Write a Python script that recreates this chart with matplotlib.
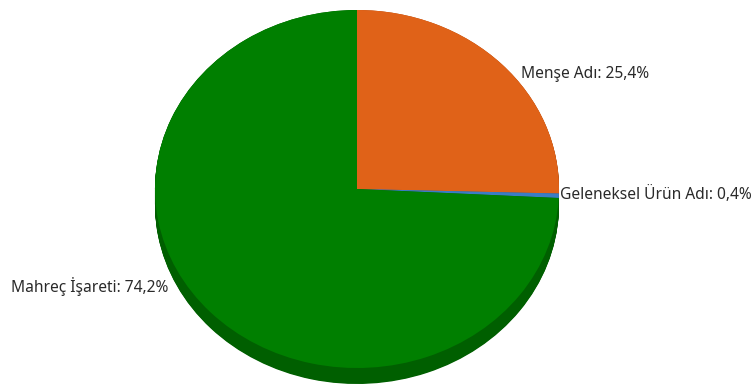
import matplotlib
matplotlib.use("Agg")
import matplotlib.pyplot as plt
import numpy as np

categories = ["Menşe Adı", "Geleneksel Ürün Adı", "Mahreç İşareti"]
values = [25.4, 0.4, 74.2]
top_colors = ["#E06218", "#3B7DC4", "#007F00"]
side_colors = ["#A8480F", "#2A5A90", "#005F00"]

W, H = 755, 385
cx, cy = 357, 189
rx, ry = 202, 179
depth_px = 16

fig = plt.figure(figsize=(W / 100, H / 100), dpi=100)
ax = fig.add_axes([0, 0, 1, 1])

# side (depth)
for d in np.linspace(depth_px / ry, 0, 25):
    ax.pie(values, colors=side_colors, startangle=90, counterclock=False,
           radius=1, center=(0, -d), wedgeprops=dict(linewidth=0))
# top face
ax.pie(values, colors=top_colors, startangle=90, counterclock=False,
       radius=1, center=(0, 0), wedgeprops=dict(linewidth=0))

ax.set_aspect("auto")
ax.set_xlim(-cx / rx, (W - cx) / rx)
ax.set_ylim(-(H - cy) / ry, cy / ry)
ax.axis("off")

def fmt(v):
    return f"{v:.1f}".replace(".", ",") + "%"

label_pos = [(521, 74, "left"), (560, 195, "left"), (168, 287, "right")]
for name, v, (x, y, ha) in zip(categories, values, label_pos):
    fig.text(x / W, 1 - y / H, f"{name}: {fmt(v)}", ha=ha, va="center",
             fontsize=11.2, family=["Noto Sans", "DejaVu Sans"], color="#2a2a2a")

fig.savefig("out.png", dpi=100, facecolor="white")
